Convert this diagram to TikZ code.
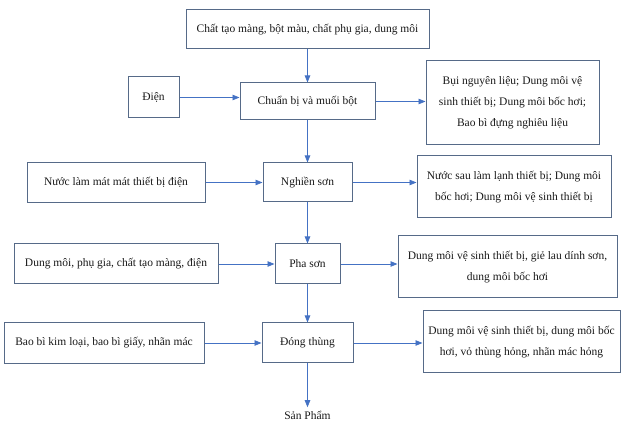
\documentclass[tikz,border=0pt]{standalone}
\usepackage{fontspec}
\setmainfont{Liberation Serif}
\usetikzlibrary{positioning,arrows.meta}
\definecolor{arrowblue}{HTML}{4472C4}
\definecolor{boxedge}{HTML}{566A88}

\begin{document}
\begin{tikzpicture}[
    x=1pt, y=1pt,
    node distance=80pt,
    font=\fontsize{11.5}{21}\selectfont,
    stage/.style={rectangle,draw=boxedge,line width=1pt,align=center,inner sep=2pt,text=black!90},
    flow/.style={-{Triangle[length=7pt,width=5.5pt]},color=arrowblue,line width=0.8pt}
    ]
    \useasboundingbox (0,0) rectangle (622,-422);
        % main column
        \node [stage,minimum width=243pt,minimum height=39pt](input) at (307.5,-29.5) {Chất tạo màng, bột màu, chất phụ gia, dung môi};
        \node [stage,minimum width=135pt,minimum height=37pt](prep) [below of=input,node distance=72pt] {Chuẩn bị và muối bột};
        \node [stage,minimum width=89pt,minimum height=39pt](grind) [below of=prep,node distance=81pt] {Nghiền sơn};
        \node [stage,minimum width=65pt,minimum height=40pt](mix) [below of=grind,node distance=81.5pt] {Pha sơn};
        \node [stage,minimum width=91pt,minimum height=40pt](pack) [below of=mix,node distance=79pt] {Đóng thùng};
        \node [text=black!90](product) [below of=pack,node distance=72pt] {Sản Phẩm};
        % inputs
        \node [stage,minimum width=51pt,minimum height=41pt](power) [left of=prep,node distance=154pt,yshift=4pt] {Điện};
        \node [stage,minimum width=178pt,minimum height=40pt](coolant) [left of=grind,node distance=191.5pt] {Nước làm mát mát thiết bị điện};
        \node [stage,minimum width=204pt,minimum height=40pt](solvent) [left of=mix,node distance=191.5pt] {Dung môi, phụ gia, chất tạo màng, điện};
        \node [stage,minimum width=200pt,minimum height=41pt](packing) [left of=pack,node distance=203.5pt] {Bao bì kim loại, bao bì giấy, nhãn mác};
        % wastes
        \node [stage,minimum width=173pt,minimum height=84pt](waste1) [right of=prep,node distance=205pt,yshift=-1.5pt] {Bụi nguyên liệu; Dung môi vệ\\sinh thiết bị; Dung môi bốc hơi;\\Bao bì đựng nghiêu liệu};
        \node [stage,minimum width=194pt,minimum height=62pt](waste2) [right of=grind,node distance=206.5pt,yshift=-4.5pt] {Nước sau làm lạnh thiết bị; Dung môi\\bốc hơi; Dung môi vệ sinh thiết bị};
        \node [stage,minimum width=219pt,minimum height=62pt](waste3) [right of=mix,node distance=200pt,yshift=-3pt] {Dung môi vệ sinh thiết bị, giẻ lau dính sơn,\\dung môi bốc hơi};
        \node [stage,minimum width=197pt,minimum height=62pt](waste4) [right of=pack,node distance=214pt,yshift=1pt] {Dung môi vệ sinh thiết bị, dung môi bốc\\hơi, vỏ thùng hỏng, nhãn mác hỏng};

        \draw [flow] (input) -- (prep);
        \draw [flow] (prep) -- (grind);
        \draw [flow] (grind) -- (mix);
        \draw [flow] (mix) -- (pack);
        \draw [flow] (pack) -- (product);

        \draw [flow] (power) -- (power -| prep.west);
        \draw [flow] (coolant) -- (coolant -| grind.west);
        \draw [flow] (solvent) -- (solvent -| mix.west);
        \draw [flow] (packing) -- (packing -| pack.west);

        \draw [flow] (prep) -- (prep -| waste1.west);
        \draw [flow] (grind) -- (grind -| waste2.west);
        \draw [flow] (mix) -- (mix -| waste3.west);
        \draw [flow] (pack) -- (pack -| waste4.west);

\end{tikzpicture}
\end{document}
